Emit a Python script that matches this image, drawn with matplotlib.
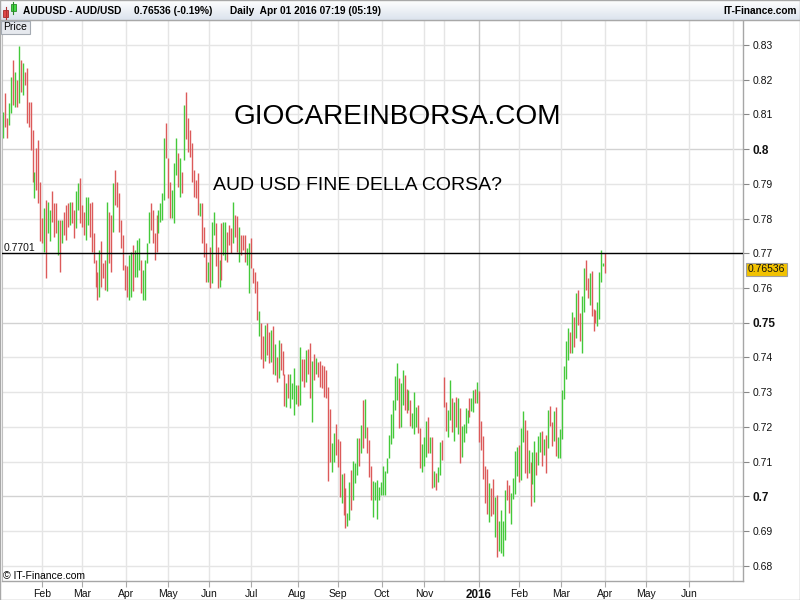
import matplotlib
matplotlib.use('Agg')
import matplotlib.pyplot as plt
from matplotlib.patches import Rectangle
import numpy as np

plt.rcParams['font.family'] = ['Liberation Sans', 'DejaVu Sans']

# ---------------- data (daily bars, AUD/USD) ----------------
highs = [
    0.8108, 0.8161, 0.8089, 0.8132, 0.8209, 0.8257, 0.8223, 0.8199, 0.8297, 0.8257,
    0.8247, 0.8223, 0.8233, 0.8137, 0.8137, 0.8055, 0.7935, 0.8002, 0.8026, 0.7906,
    0.7801, 0.7830, 0.7854, 0.7849, 0.7825, 0.7878, 0.7844, 0.7844, 0.7796, 0.7796,
    0.7796, 0.7820, 0.7839, 0.7844, 0.7849, 0.7849, 0.7825, 0.7878, 0.7902, 0.7916,
    0.7839, 0.7820, 0.7863, 0.7863, 0.7844, 0.7849, 0.7758, 0.7681, 0.7647, 0.7710,
    0.7734, 0.7671, 0.7681, 0.7849, 0.7820, 0.7810, 0.7902, 0.7940, 0.7906, 0.7873,
    0.7796, 0.7753, 0.7666, 0.7662, 0.7695, 0.7705, 0.7724, 0.7710, 0.7738, 0.7743,
    0.7681, 0.7652, 0.7681, 0.7729, 0.7820, 0.7844, 0.7825, 0.7758, 0.7810, 0.7825,
    0.7844, 0.7873, 0.8031, 0.8074, 0.7974, 0.7906, 0.7882, 0.7959, 0.8031, 0.7988,
    0.7974, 0.7935, 0.8127, 0.8166, 0.8089, 0.8055, 0.8017, 0.7940, 0.7911, 0.7930,
    0.7844, 0.7844, 0.7777, 0.7729, 0.7676, 0.7719, 0.7791, 0.7820, 0.7786, 0.7719,
    0.7681, 0.7786, 0.7791, 0.7791, 0.7762, 0.7782, 0.7772, 0.7849, 0.7810, 0.7806,
    0.7777, 0.7753, 0.7753, 0.7753, 0.7714, 0.7729, 0.7743, 0.7657, 0.7647, 0.7620,
    0.7534, 0.7500, 0.7462, 0.7494, 0.7498, 0.7474, 0.7479, 0.7491, 0.7439, 0.7400,
    0.7450, 0.7443, 0.7419, 0.7351, 0.7326, 0.7351, 0.7352, 0.7326, 0.7369, 0.7321,
    0.7321, 0.7431, 0.7396, 0.7396, 0.7422, 0.7424, 0.7441, 0.7390, 0.7410, 0.7398,
    0.7388, 0.7390, 0.7378, 0.7375, 0.7364, 0.7316, 0.7251, 0.7153, 0.7182, 0.7209,
    0.7165, 0.7158, 0.7065, 0.7066, 0.7023, 0.6953, 0.7042, 0.7076, 0.7102, 0.7097,
    0.7167, 0.7167, 0.7204, 0.7278, 0.7280, 0.7201, 0.7162, 0.7088, 0.7044, 0.7042,
    0.7047, 0.7028, 0.7042, 0.7088, 0.7073, 0.7110, 0.7177, 0.7237, 0.7276, 0.7347,
    0.7385, 0.7340, 0.7326, 0.7364, 0.7348, 0.7308, 0.7306, 0.7278, 0.7241, 0.7299,
    0.7258, 0.7263, 0.7198, 0.7151, 0.7170, 0.7217, 0.7228, 0.7172, 0.7172, 0.7073,
    0.7068, 0.7083, 0.7157, 0.7162, 0.7345, 0.7273, 0.7249,
    0.7335, 0.7284, 0.7273, 0.7287, 0.7284, 0.7254, 0.7203, 0.7208, 0.7254, 0.7249,
    0.7282, 0.7284, 0.7305, 0.7308, 0.7330, 0.7302, 0.7218, 0.7174, 0.7087, 0.7080,
    0.7038, 0.7025, 0.7049, 0.6999, 0.7004, 0.6929, 0.6961, 0.6929, 0.7018, 0.7047,
    0.7033, 0.7009, 0.7054, 0.7131, 0.7143, 0.7148, 0.7196, 0.7246, 0.7220, 0.7191,
    0.7132, 0.7100, 0.7127, 0.7158, 0.7129, 0.7174, 0.7186, 0.7189, 0.7164, 0.7177,
    0.7249, 0.7260, 0.7215, 0.7246, 0.7258, 0.7172, 0.7193, 0.7305, 0.7376, 0.7446,
    0.7484, 0.7474, 0.7532, 0.7516, 0.7587, 0.7594, 0.7529, 0.7577, 0.7659, 0.7681,
    0.7630, 0.7644, 0.7649, 0.7540, 0.7537, 0.7561, 0.7647, 0.7710, 0.7673, 0.7700,
]
lows = [
    0.8031, 0.8065, 0.8031, 0.8070, 0.8103, 0.8127, 0.8122, 0.8122, 0.8132, 0.8166,
    0.8156, 0.8185, 0.8074, 0.8065, 0.7998, 0.7906, 0.7858, 0.7882, 0.7844, 0.7734,
    0.7729, 0.7705, 0.7628, 0.7758, 0.7734, 0.7791, 0.7748, 0.7758, 0.7695, 0.7647,
    0.7729, 0.7753, 0.7738, 0.7777, 0.7782, 0.7787, 0.7743, 0.7772, 0.7825, 0.7787,
    0.7777, 0.7753, 0.7738, 0.7782, 0.7748, 0.7705, 0.7671, 0.7604, 0.7566, 0.7575,
    0.7604, 0.7628, 0.7594, 0.7590, 0.7671, 0.7647, 0.7762, 0.7839, 0.7834, 0.7762,
    0.7714, 0.7652, 0.7594, 0.7575, 0.7566, 0.7575, 0.7590, 0.7633, 0.7633, 0.7652,
    0.7585, 0.7566, 0.7566, 0.7671, 0.7729, 0.7767, 0.7729, 0.7681, 0.7705, 0.7758,
    0.7791, 0.7796, 0.7854, 0.7974, 0.7858, 0.7801, 0.7801, 0.7786, 0.7926, 0.7892,
    0.7863, 0.7873, 0.7969, 0.8030, 0.7993, 0.7978, 0.7906, 0.7863, 0.7858, 0.7810,
    0.7806, 0.7729, 0.7690, 0.7618, 0.7618, 0.7599, 0.7614, 0.7753, 0.7662, 0.7599,
    0.7604, 0.7623, 0.7695, 0.7681, 0.7676, 0.7724, 0.7700, 0.7729, 0.7748, 0.7705,
    0.7676, 0.7695, 0.7710, 0.7676, 0.7666, 0.7585, 0.7657, 0.7614, 0.7585, 0.7508,
    0.7462, 0.7396, 0.7371, 0.7390, 0.7407, 0.7383, 0.7388, 0.7353, 0.7350, 0.7329,
    0.7342, 0.7364, 0.7350, 0.7261, 0.7258, 0.7284, 0.7254, 0.7280, 0.7235, 0.7266,
    0.7261, 0.7263, 0.7332, 0.7316, 0.7330, 0.7351, 0.7284, 0.7215, 0.7335, 0.7351,
    0.7345, 0.7316, 0.7311, 0.7287, 0.7282, 0.7043, 0.7100, 0.7071, 0.7100, 0.7119,
    0.7084, 0.6999, 0.6982, 0.6946, 0.6908, 0.6913, 0.6932, 0.6961, 0.6990, 0.7038,
    0.7062, 0.7086, 0.7124, 0.7138, 0.7167, 0.7124, 0.7057, 0.6988, 0.6939, 0.6990,
    0.6935, 0.6990, 0.7004, 0.7004, 0.7004, 0.7068, 0.7110, 0.7150, 0.7167, 0.7249,
    0.7278, 0.7198, 0.7201, 0.7263, 0.7249, 0.7239, 0.7249, 0.7203, 0.7196, 0.7180,
    0.7201, 0.7182, 0.7081, 0.7071, 0.7086, 0.7114, 0.7124, 0.7124, 0.7023, 0.7028,
    0.7017, 0.7040, 0.7062, 0.7105, 0.7256, 0.7187, 0.7172,
    0.7220, 0.7184, 0.7158, 0.7201, 0.7179, 0.7097, 0.7113, 0.7156, 0.7182, 0.7210,
    0.7228, 0.7246, 0.7244, 0.7268, 0.7268, 0.7155, 0.7132, 0.7049, 0.6982, 0.6949,
    0.6927, 0.6942, 0.6949, 0.6884, 0.6826, 0.6841, 0.6836, 0.6828, 0.6874, 0.6988,
    0.6951, 0.6920, 0.6993, 0.7007, 0.7059, 0.7042, 0.7047, 0.7155, 0.7066, 0.7054,
    0.7066, 0.6973, 0.7036, 0.6985, 0.7062, 0.7090, 0.7129, 0.7086, 0.7119, 0.7068,
    0.7138, 0.7203, 0.7145, 0.7158, 0.7116, 0.7110, 0.7110, 0.7165, 0.7280, 0.7338,
    0.7393, 0.7412, 0.7412, 0.7429, 0.7457, 0.7494, 0.7446, 0.7414, 0.7532, 0.7594,
    0.7570, 0.7551, 0.7520, 0.7477, 0.7500, 0.7491, 0.7510, 0.7616, 0.7662, 0.7644,
]
# u = up day (green), d = down day (red)
direction = (
    "udduududud" +
    "uddddduddd" + "duduudddud" + "udddudduud" + "dduudddddu" +
    "dddudduddd" + "dddduuduuu" + "duuuuddddu" + "uuuddduuud" +
    "ududdddddd" + "uddduduudd" + "uduudddudd" + "uddduudddd" +
    "udduddudud" + "uddduduuuu" + "dudduddudu" + "ddddddduud" +
    "ddudduuduu" + "udududdduu" + "uuuuuuuuuu" + "uduudduduu" +
    "udduuududu" + "duudddu" +
    "udududuuuu" + "duududdddd" + "udduduuuud" + "duuuuduudd" +
    "uduuduudud" + "udduduuuuu" +
    "udududduud" + "duddduuuud"
)

hline_level = 0.7701
last_price = "0.76536"
header_symbol = "AUDUSD - AUD/USD"
header_quote = "0.76536 (-0.19%)"
header_time = "Daily  Apr 01 2016 07:19 (05:19)"

month_labels = ['Feb', 'Mar', 'Apr', 'May', 'Jun', 'Jul', 'Aug', 'Sep', 'Oct',
                'Nov', '2016', 'Feb', 'Mar', 'Apr', 'May', 'Jun']
month_pos = [20, 40, 62.3, 84, 104.8, 126, 149.7, 170.3, 192.4,
             213.9, 241.8, 262.2, 283.3, 305.8, 326.7, 348.5]
extra_grid_pos = [224.1, 370.9]

y_ticks = [0.68, 0.69, 0.70, 0.71, 0.72, 0.73, 0.74, 0.75, 0.76, 0.77,
           0.78, 0.79, 0.80, 0.81, 0.82, 0.83]
y_labels = ['0.68', '0.69', '0.7', '0.71', '0.72', '0.73', '0.74', '0.75', '0.76',
            '0.77', '0.78', '0.79', '0.8', '0.81', '0.82', '0.83']
bold_levels = ['0.7', '0.75', '0.8']

# ---------------- figure ----------------
W, H = 800, 600
fig = plt.figure(figsize=(8, 6), dpi=100)
fig.patch.set_facecolor('white')

def fx(px):
    return px / W

def fy(py):
    return 1 - py / H

ax_left, ax_right, ax_top, ax_bottom = 2, 742.7, 20, 581
ax = fig.add_axes([fx(ax_left), fy(ax_bottom), fx(ax_right - ax_left), (ax_bottom - ax_top) / H])
ax.set_facecolor('white')

# grid
for v, lab in zip(y_ticks, y_labels):
    c = '#d2d2d2' if lab in bold_levels else '#e5e5e5'
    ax.axhline(v, color=c, lw=1.0, zorder=0)
for p, lab in zip(month_pos, month_labels):
    c = '#cacaca' if lab == '2016' else '#e5e5e5'
    ax.axvline(p, color=c, lw=1.0, zorder=0)
for p in extra_grid_pos:
    ax.axvline(p, color='#e5e5e5', lw=1.0, zorder=0)

x = np.arange(len(highs))
cols = ['#44c93a' if d == 'u' else '#dc5a5a' for d in direction]
ax.vlines(x, lows, highs, colors=cols, lw=1.0, zorder=2)

ax.axhline(hline_level, color='black', lw=1.0, zorder=3)
fig.text(fx(3.3), fy(251), f"{hline_level:.4f}", fontsize=7.5, color='#111111',
         ha='left', va='baseline')

ax.set_xlim(-0.508, 375.8)
ax.set_ylim(0.6756, 0.8372)

ax.yaxis.tick_right()
ax.set_yticks(y_ticks)
ax.set_yticklabels(y_labels)
for t, lab in zip(ax.get_yticklabels(), y_labels):
    if lab in bold_levels:
        t.set_fontweight('bold')
        t.set_fontsize(8.5)
    else:
        t.set_fontsize(7.5)
    t.set_color('#111111')
ax.tick_params(axis='y', length=4, width=0.8, color='#888888', pad=3, left=False)

ax.set_xticks(month_pos)
ax.set_xticklabels(month_labels)
for t, lab in zip(ax.get_xticklabels(), month_labels):
    if lab == '2016':
        t.set_fontweight('bold')
        t.set_fontsize(8.4)
    else:
        t.set_fontsize(7.5)
    t.set_color('#111111')
ax.tick_params(axis='x', length=4, width=0.8, color='#aaaaaa', pad=2)

for side in ['left', 'top']:
    ax.spines[side].set_color('#c0c0c0')
    ax.spines[side].set_linewidth(0.8)
for side in ['right', 'bottom']:
    ax.spines[side].set_color('#a6a6a6')
    ax.spines[side].set_linewidth(1.0)

# ---------------- header bar ----------------
hax = fig.add_axes([0, fy(20), 1, 20 / H])
grad = np.linspace(0, 1, 50).reshape(-1, 1)
top_c = np.array([1.0, 1.0, 1.0])
bot_c = np.array([0.86, 0.89, 0.93])
img = top_c[None, None, :] * (1 - grad[:, :, None]) + bot_c[None, None, :] * grad[:, :, None]
hax.imshow(img, aspect='auto', extent=[0, 1, 0, 1], origin='upper')
hax.set_axis_off()
fig.add_artist(plt.Line2D([0, 1], [fy(20), fy(20)], color='#a8a8a8', lw=1.0))

# candle icon
fig.add_artist(plt.Line2D([fx(5.5), fx(5.5)], [fy(7), fy(19)], color='#b03030', lw=0.8))
fig.patches.append(Rectangle((fx(3.3), fy(16.7)), fx(4.3), 6.7 / H, transform=fig.transFigure,
                             facecolor='#e04848', edgecolor='#a02828', lw=0.6))
fig.add_artist(plt.Line2D([fx(13.3), fx(13.3)], [fy(1.5), fy(14)], color='#2a8a2a', lw=0.8))
fig.patches.append(Rectangle((fx(11.0), fy(11.0)), fx(4.7), 7.5 / H, transform=fig.transFigure,
                             facecolor='#44dd44', edgecolor='#2a8a2a', lw=0.6))

fig.text(fx(23.3), fy(13.8), header_symbol, fontsize=7.3, fontweight='bold', ha='left', va='baseline')
fig.text(fx(134), fy(13.8), header_quote, fontsize=7.3, fontweight='bold', ha='left', va='baseline')
fig.text(fx(230), fy(13.8), header_time, fontsize=7.3, fontweight='bold', ha='left', va='baseline')
fig.text(fx(797), fy(13.8), "IT-Finance.com", fontsize=7.3, fontweight='bold', ha='right', va='baseline')

# "Price" box
fig.patches.append(Rectangle((fx(0.8), fy(33.5)), fx(28.7), 12.5 / H, transform=fig.transFigure,
                             facecolor='#e6e9ee', edgecolor='#a4aab2', lw=0.8, zorder=5))
fig.text(fx(3.5), fy(30.5), "Price", fontsize=7.5, ha='left', va='baseline', zorder=6)

# annotations
fig.text(fx(397), fy(124.3), "GIOCAREINBORSA.COM", fontsize=20.2, ha='center', va='baseline')
fig.text(fx(213.3), fy(190), "AUD USD FINE DELLA CORSA?", fontsize=14, ha='left', va='baseline')
fig.text(fx(3), fy(579), "\u00a9 IT-Finance.com", fontsize=7.5, ha='left', va='baseline')

# last price box
fig.text(fx(748), fy(272.5), last_price, fontsize=7.5, ha='left', va='baseline', color='#111111',
         bbox=dict(boxstyle='square,pad=0.18', facecolor='#f2c200', edgecolor='#a0a0a0', lw=0.8))

# outer border
fig.patches.append(Rectangle((0.0005, 0.0008), 0.999, 0.9985, transform=fig.transFigure,
                             facecolor='none', edgecolor='#a8a8a8', lw=1.0))

fig.savefig('out.png', dpi=100, facecolor='white')
